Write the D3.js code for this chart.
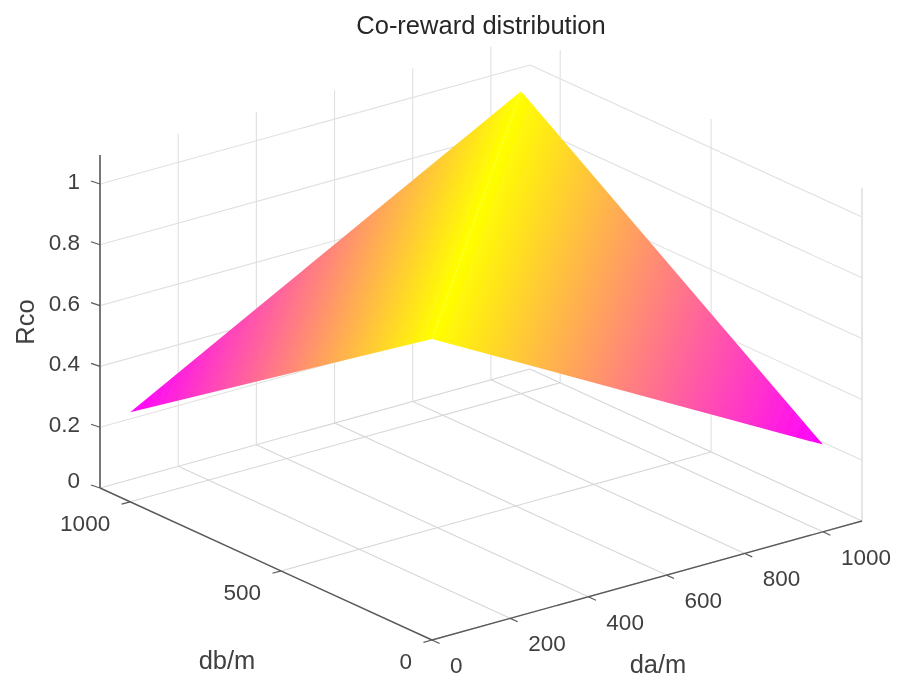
<!DOCTYPE html>
<meta charset="utf-8">
<script src="https://d3js.org/d3.v7.min.js"></script>
<style>
  html, body { margin: 0; padding: 0; background: #fff; }
  svg { display: block; }
  text { font-family: "Liberation Sans", Arial, sans-serif; fill: #404040; }
</style>
<svg width="897" height="680"></svg>

<script>
// surface corners: rco[db index][da index]
var daValues = [0, 1000];
var dbValues = [0, 1000];
var rco = [[0.99, 0.287],
           [0.295, 0.995]];

var daTicks = [0, 200, 400, 600, 800, 1000];
var dbTicks = [0, 500, 1000];
var zTicks = [0, 0.2, 0.4, 0.6, 0.8, 1];
var zTickLabels = ["0", "0.2", "0.4", "0.6", "0.8", "1"];

var daMax = 1100, dbMax = 1100, zMax = 1.095;

// floor origin sits at (432,640), each axis gets a screen x and y scale
var daX = d3.scaleLinear().domain([0, daMax]).range([432, 862]);
var daY = d3.scaleLinear().domain([0, daMax]).range([640, 521]);
var dbX = d3.scaleLinear().domain([0, dbMax]).range([0, -332]);
var dbY = d3.scaleLinear().domain([0, dbMax]).range([0, -152]);
var zY = d3.scaleLinear().domain([0, 1]).range([0, -304]);

function project(da, db, z) {
  return [daX(da) + dbX(db), daY(da) + dbY(db) + zY(z)];
}

var color = d3.scaleLinear().domain([0.29, 0.99]).range(["#ff00ff", "#ffff00"]);

var svg = d3.select("svg");
var defs = svg.append("defs");
defs.append("filter").attr("id", "soft")
    .append("feGaussianBlur").attr("stdDeviation", 0.5);

var g = svg.append("g").attr("filter", "url(#soft)");
var line = d3.line();

function seg(parent, a, b, stroke, width) {
  parent.append("path")
      .attr("d", line([a, b]))
      .attr("fill", "none")
      .attr("stroke", stroke)
      .attr("stroke-width", width);
}

// grid, the floor lines come out a bit darker than the walls
var grid = g.append("g");
var floorColor = "#d6d6d6", wallColor = "#e0e0e0";
daTicks.forEach(function(d) {
  seg(grid, project(d, 0, 0), project(d, dbMax, 0), floorColor, 1.1);
  seg(grid, project(d, dbMax, 0), project(d, dbMax, zMax), wallColor, 1.1);
});
dbTicks.forEach(function(d) {
  seg(grid, project(0, d, 0), project(daMax, d, 0), floorColor, 1.1);
  seg(grid, project(daMax, d, 0), project(daMax, d, zMax), wallColor, 1.1);
});
zTicks.forEach(function(z) {
  var c = z === 0 ? floorColor : wallColor;
  seg(grid, project(0, dbMax, z), project(daMax, dbMax, z), c, 1.1);
  seg(grid, project(daMax, dbMax, z), project(daMax, 0, z), c, 1.1);
});
seg(grid, project(daMax, 0, 0), project(daMax, 0, zMax), wallColor, 1.1);

// the surface folds along da = db, so each half is one plane with a straight colour ramp
var near = project(daValues[0], dbValues[0], rco[0][0]);
var far = project(daValues[1], dbValues[1], rco[1][1]);
var halves = [
  {id: "halfA", apex: project(daValues[1], dbValues[0], rco[0][1]), z: rco[0][1]},
  {id: "halfB", apex: project(daValues[0], dbValues[1], rco[1][0]), z: rco[1][0]}
];

halves.forEach(function(h) {
  var rx = far[0] - near[0], ry = far[1] - near[1];
  var t = ((h.apex[0] - near[0]) * rx + (h.apex[1] - near[1]) * ry) / (rx * rx + ry * ry);
  var foot = [near[0] + t * rx, near[1] + t * ry];
  var grad = defs.append("linearGradient").attr("id", h.id)
      .attr("gradientUnits", "userSpaceOnUse")
      .attr("x1", h.apex[0]).attr("y1", h.apex[1])
      .attr("x2", foot[0]).attr("y2", foot[1]);
  grad.append("stop").attr("offset", 0).attr("stop-color", color(h.z));
  // ridge is rounded off a little in the reference, no hard crease
  grad.append("stop").attr("offset", 0.97).attr("stop-color", color(0.972));
  grad.append("stop").attr("offset", 1).attr("stop-color", color(rco[0][0]));
  g.append("path")
      .attr("d", line([near, far, h.apex]) + "Z")
      .attr("fill", "url(#" + h.id + ")");
});

// axes
var axisColor = "#5a5a5a";
var axes = g.append("g");
seg(axes, project(0, dbMax, 0), project(0, dbMax, zMax), axisColor, 1.6);
seg(axes, project(0, 0, 0), project(0, dbMax, 0), axisColor, 1.4);
seg(axes, project(0, 0, 0), project(daMax, 0, 0), axisColor, 1.4);

var tickDa = 22, tickDb = 25;
var tickFont = 22.5, labelFont = 25.5;

zTicks.forEach(function(z, i) {
  var p = project(0, dbMax, z);
  seg(axes, p, [p[0] - 9, p[1] - 3], axisColor, 1.2);
  axes.append("text")
      .attr("x", p[0] - 20).attr("y", p[1] + (z === 0 ? -6 : -1))
      .attr("text-anchor", "end").attr("dominant-baseline", "middle")
      .attr("font-size", tickFont)
      .text(zTickLabels[i]);
});

dbTicks.forEach(function(d) {
  var p = project(0, d, 0);
  var e = project(-tickDa, d, 0);
  seg(axes, p, e, axisColor, 1.2);
  axes.append("text")
      .attr("x", p[0] - 20).attr("y", p[1] + 23)
      .attr("text-anchor", "end").attr("dominant-baseline", "middle")
      .attr("font-size", tickFont)
      .text(d);
});

daTicks.forEach(function(d) {
  var p = project(d, 0, 0);
  var e = project(d, -tickDb, 0);
  seg(axes, p, e, axisColor, 1.2);
  axes.append("text")
      .attr("x", p[0] + 18).attr("y", p[1] + 27)
      .attr("text-anchor", "start").attr("dominant-baseline", "middle")
      .attr("font-size", tickFont)
      .text(d);
});

// labels
function label(x, y, str, rotate) {
  return g.append("text")
      .attr("text-anchor", "middle").attr("dominant-baseline", "middle")
      .attr("font-size", labelFont)
      .attr("transform", "translate(" + x + "," + y + ")" + (rotate ? " rotate(" + rotate + ")" : ""))
      .text(str);
}
label(481, 27, "Co-reward distribution").style("fill", "#262626");
label(227, 662, "db/m");
label(658, 666, "da/m");
label(27, 322, "Rco", -90);
</script>
